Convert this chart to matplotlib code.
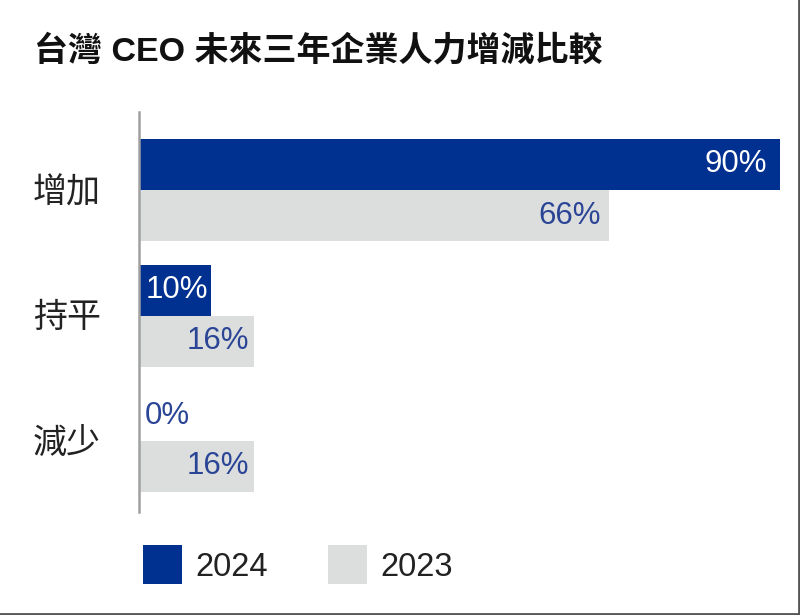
import matplotlib
matplotlib.use("Agg")
import matplotlib.pyplot as plt
from matplotlib.lines import Line2D
from matplotlib.patches import Rectangle

plt.rcParams['font.family'] = ['Liberation Sans', 'Noto Sans CJK TC', 'DejaVu Sans']

# datos
titulo = '台灣 CEO 未來三年企業人力增減比較'
categorias = ['增加', '持平', '減少']
anios = ['2024', '2023']
valores_2024 = [90, 10, 0]
valores_2023 = [66, 16, 16]

azul = '#003090'
gris = '#dcdddd'
azul_txt = '#2b4596'

fig = plt.figure(figsize=(8, 6.15), dpi=100)
W, H = 800.0, 615.0

# ejes en coordenadas de pixel
ax = fig.add_axes([139 / W, 1 - 512 / H, (W - 139) / W, 400 / H])
esc = 640 / 90.0  # px por %
ax.set_xlim(0, (W - 139) / esc)
paso = 125.5
ax.set_ylim((512 - 190) / paso, (112 - 190) / paso)
alto = 51 / paso

pos = range(len(categorias))
y24 = [p - alto / 2 for p in pos]
y23 = [p + alto / 2 for p in pos]
ax.barh(y24, valores_2024, height=alto, color=azul, left=0.15)
ax.barh(y23, valores_2023, height=alto, color=gris, left=0.15)

for i, v in enumerate(valores_2024):
    if v > 0:
        off = -12 if v > 20 else -2
        ax.annotate(f'{v}%', xy=(v, y24[i]), xytext=(off, 0), textcoords='offset pixels',
                    ha='right', va='center', fontsize=22.5, color='white')
    else:
        ax.annotate(f'{v}%', xy=(0, y24[i]), xytext=(6, 0), textcoords='offset pixels',
                    ha='left', va='center', fontsize=22.5, color=azul_txt)
for i, v in enumerate(valores_2023):
    off = -7 if v > 20 else -4
    ax.annotate(f'{v}%', xy=(v, y23[i]), xytext=(off, 0), textcoords='offset pixels',
                ha='right', va='center', fontsize=22.5, color=azul_txt)

for i, c in enumerate(categorias):
    fig.text(33 / W, 1 - (193 + i * paso) / H, c, fontsize=24.5, ha='left', va='center', color='#222222')

for s in ['top', 'right', 'bottom']:
    ax.spines[s].set_visible(False)
ax.spines['left'].set_color('#a0a0a0')
ax.spines['left'].set_linewidth(1.8)
ax.set_xticks([])
ax.set_yticks([])

# titulo
fig.text(34 / W, 1 - 51 / H, titulo, fontsize=24.5, fontweight='bold', ha='left', va='center', color='#111111')

# leyenda
for x0, anio, col in [(143, anios[0], azul), (328, anios[1], gris)]:
    fig.add_artist(Rectangle((x0 / W, 1 - 584 / H), 39 / W, 39 / H, transform=fig.transFigure,
                             facecolor=col, edgecolor='none'))
    fig.text((x0 + 52) / W, 1 - 567 / H, anio, fontsize=23.5, ha='left', va='center', color='#222222')

# marco
fig.add_artist(Line2D([0, 799 / W], [1 - 613.5 / H] * 2, transform=fig.transFigure, color='#555555', lw=2))
fig.add_artist(Line2D([798.5 / W] * 2, [0, 1], transform=fig.transFigure, color='#555555', lw=2))

plt.savefig('out.png', dpi=100)
